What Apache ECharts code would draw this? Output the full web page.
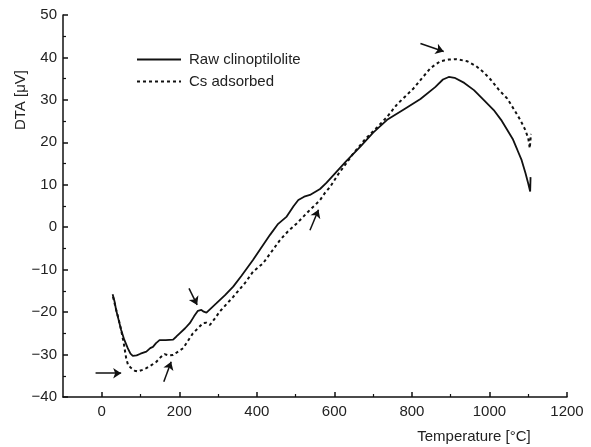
<!DOCTYPE html>
<html lang="en">
<head>
    <meta charset="utf-8">
    <title>DTA - Raw clinoptilolite / Cs adsorbed</title>
    <script src="https://cdn.jsdelivr.net/npm/echarts@6/dist/echarts.min.js"></script>
    <style>
        html,
        body,
        #chart {
            width: 100%;
            height: 100%;
            margin: 0;
            padding: 0;
            overflow: hidden;
            background-color: #ffffff;
        }
    </style>
</head>
<body>
    <div id="chart"></div>
    <script>
        // [temperature °C, DTA µV]
        var rawData = [
            [28, -15.8], [33, -17.5], [37, -19.5], [44, -22], [50, -24.2], [58, -26.5], [67, -28.5], [74, -29.8],
            [80, -30.3], [90, -30.2], [100, -29.8], [115, -29.3], [125, -28.5], [132, -28.2], [140, -27.3],
            [149, -26.6], [165, -26.6], [184, -26.5], [192, -25.8], [201, -25], [215, -23.8], [227, -22.6],
            [238, -21], [248, -19.7], [257, -19.5], [263, -19.9], [270, -20.1], [283, -19], [296, -17.9],
            [318, -16], [339, -14], [360, -11.5], [390, -7.7], [410, -5], [434, -1.8], [455, 0.8], [477, 2.5],
            [495, 5], [507, 6.4], [522, 7.2], [537, 7.6], [550, 8.3], [563, 9], [580, 10.5], [600, 12.5],
            [630, 15.5], [667, 19], [700, 22.3], [736, 25.3], [780, 27.8], [822, 30.2], [860, 33], [880, 34.8],
            [895, 35.4], [910, 35.2], [935, 34], [960, 32.3], [985, 30], [1011, 27.6], [1030, 25.3], [1046, 22.9],
            [1060, 20.8], [1072, 18.2], [1083, 15.8], [1093, 12.7], [1100, 10.3], [1105, 8.4], [1106, 11.8]
        ];
        var csData = [
            [29, -16.4], [36, -19], [43, -21.5], [50, -24.2], [57, -27.5], [63, -30.9], [68, -32.5], [76, -33.2],
            [85, -33.8], [93, -34], [105, -33.6], [115, -33.2], [128, -32.5], [141, -31.7], [152, -30.6],
            [162, -29.9], [172, -30.2], [184, -30.1], [197, -29.3], [210, -28.5], [222, -26.8], [235, -25],
            [248, -23.8], [261, -22.6], [270, -22.5], [279, -23], [292, -21.5], [304, -19.9], [320, -18.3],
            [339, -16.4], [369, -13.2], [390, -10.5], [416, -8.5], [440, -5.5], [460, -3], [480, -1], [503, 0.9],
            [520, 2.5], [537, 4.1], [550, 5.2], [563, 6.4], [575, 8], [589, 9.5], [610, 12.5], [630, 15],
            [649, 17.4], [680, 20.8], [710, 23.5], [736, 26], [762, 29], [785, 31], [804, 32.7], [825, 35],
            [848, 37.5], [873, 39.1], [895, 39.5], [915, 39.6], [943, 39.1], [965, 38], [985, 36.5], [1003, 34.8],
            [1025, 32.3], [1046, 30.3], [1065, 27.5], [1080, 25.2], [1092, 23], [1100, 21], [1104, 18.6], [1107, 22]
        ];

        var xMajorTicks = [0, 200, 400, 600, 800, 1000, 1200];
        var xMinorTicks = [100, 300, 500, 700, 900, 1100];

        // annotation arrows: [from, to] in data units
        var arrows = [
            [[-16, -34.4], [50, -34.4]],
            [[160, -36.4], [179, -31.7]],
            [[225, -14.4], [246, -18.3]],
            [[537, -0.7], [559, 4.1]],
            [[822, 43.3], [882, 41.4]]
        ];

        var fontName = '"Liberation Sans", Arial, sans-serif';
        var ink = '#111';
        var textInk = '#222';

        // plain numbers, true minus sign
        function fmt(v) {
            return String(v).replace('-', '\u2212');
        }

        var chart = echarts.init(document.getElementById('chart'));

        var option = {
            animation: false,
            grid: {
                left: 63,
                right: 24,
                top: 15,
                bottom: 50
            },
            legend: {
                orient: 'vertical',
                left: 131,
                top: 47,
                itemWidth: 44,
                itemHeight: 14,
                itemGap: 7,
                itemStyle: { opacity: 0 },
                data: ['Raw clinoptilolite', 'Cs adsorbed'],
                textStyle: {
                    fontFamily: fontName,
                    fontSize: 15,
                    color: textInk,
                    padding: [0, 0, 0, 3]
                }
            },
            xAxis: [
                {
                    type: 'value',
                    min: -100,
                    max: 1200,
                    splitLine: { show: false },
                    axisLine: { onZero: false, lineStyle: { color: ink, width: 1.5 } },
                    axisTick: {
                        inside: true,
                        length: 5,
                        customValues: xMajorTicks,
                        lineStyle: { color: ink, width: 1.5 }
                    },
                    axisLabel: {
                        customValues: xMajorTicks,
                        formatter: fmt,
                        margin: 7,
                        fontFamily: fontName,
                        fontSize: 15,
                        color: textInk
                    }
                },
                {
                    type: 'value',
                    min: -100,
                    max: 1200,
                    position: 'bottom',
                    splitLine: { show: false },
                    axisLine: { show: false, onZero: false },
                    axisTick: {
                        inside: true,
                        length: 3,
                        customValues: xMinorTicks,
                        lineStyle: { color: ink, width: 1.2 }
                    },
                    axisLabel: { show: false }
                }
            ],
            yAxis: {
                type: 'value',
                min: -40,
                max: 50,
                interval: 10,
                splitLine: { show: false },
                axisLine: { show: true, onZero: false, lineStyle: { color: ink, width: 1.5 } },
                axisTick: {
                    show: true,
                    inside: true,
                    length: 5,
                    lineStyle: { color: ink, width: 1.5 }
                },
                minorTick: {
                    show: true,
                    splitNumber: 2,
                    length: 3,
                    lineStyle: { color: ink, width: 1.2 }
                },
                axisLabel: {
                    formatter: fmt,
                    margin: 6,
                    fontFamily: fontName,
                    fontSize: 15,
                    color: textInk
                }
            },
            graphic: [
                {
                    type: 'text',
                    x: 21,
                    y: 100,
                    rotation: Math.PI / 2,
                    style: {
                        text: 'DTA [\u03bcV]',
                        fontFamily: fontName,
                        fontSize: 15,
                        fill: textInk,
                        textAlign: 'center',
                        textVerticalAlign: 'middle'
                    }
                },
                {
                    type: 'text',
                    x: 474,
                    y: 437,
                    style: {
                        text: 'Temperature [\u00b0C]',
                        fontFamily: fontName,
                        fontSize: 15,
                        fill: textInk,
                        textAlign: 'center',
                        textVerticalAlign: 'middle'
                    }
                }
            ],
            series: [
                {
                    name: 'Raw clinoptilolite',
                    type: 'line',
                    symbol: 'none',
                    showSymbol: false,
                    data: rawData,
                    lineStyle: { color: ink, width: 1.8 },
                    itemStyle: { color: ink }
                },
                {
                    name: 'Cs adsorbed',
                    type: 'line',
                    symbol: 'none',
                    showSymbol: false,
                    data: csData,
                    lineStyle: { color: ink, width: 2, type: [3, 3] },
                    itemStyle: { color: ink }
                },
                {
                    name: 'arrows',
                    type: 'lines',
                    coordinateSystem: 'cartesian2d',
                    symbol: ['none', 'arrow'],
                    symbolSize: 8,
                    lineStyle: { color: ink, width: 1.5, opacity: 1 },
                    data: arrows.map(function (a) {
                        return { coords: a };
                    })
                }
            ]
        };

        chart.setOption(option);
    </script>
</body>
</html>
